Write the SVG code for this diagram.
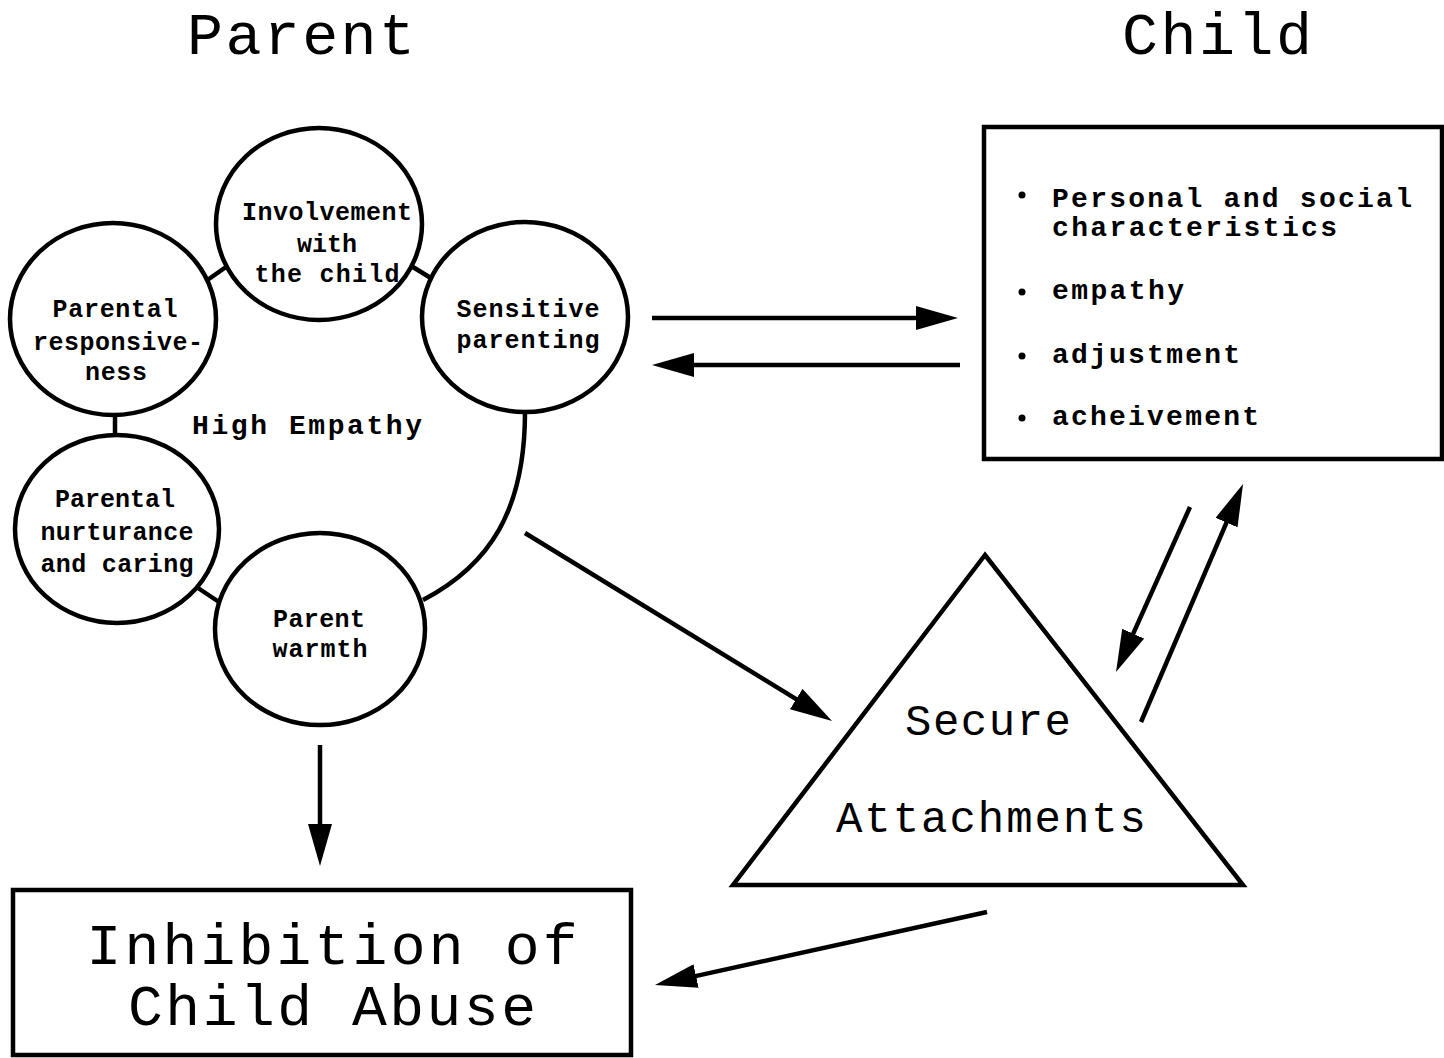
<svg xmlns="http://www.w3.org/2000/svg" width="1444" height="1058" viewBox="0 0 1444 1058">
<style>
.shape{fill:#fff;stroke:#000;stroke-width:4.5}
.ln{fill:none;stroke:#000;stroke-width:4.5}
.arr{fill:none;stroke:#000;stroke-width:4.5;marker-end:url(#ah)}
.c{font-family:"Liberation Mono","Courier New",monospace;font-weight:bold;font-size:25px;fill:#000;text-anchor:middle}
.b{font-family:"Liberation Mono","Courier New",monospace;font-weight:bold;font-size:28px;fill:#000}
.t{font-family:"Liberation Mono","Courier New",monospace;font-size:60px;fill:#000;text-anchor:middle}
.s{font-family:"Liberation Mono","Courier New",monospace;font-size:44px;fill:#000;text-anchor:middle}
.i{font-family:"Liberation Mono","Courier New",monospace;font-size:58px;fill:#000;text-anchor:middle}
</style>
<defs>
<marker id="ah" viewBox="0 0 42 24" refX="32" refY="12" markerWidth="42" markerHeight="24" markerUnits="userSpaceOnUse" orient="auto">
<path d="M0,0 L42,12 L0,24 z" fill="#000"/>
</marker>
</defs>
<rect width="1444" height="1058" fill="#fff"/>

<g id="titles">
<text class="t" x="301" y="54" textLength="228" lengthAdjust="spacing">Parent</text>
<text class="t" x="1217" y="54" textLength="190" lengthAdjust="spacing">Child</text>
</g>

<g id="connectors">
<line class="ln" x1="206" y1="281" x2="226" y2="267"/>
<line class="ln" x1="408" y1="264" x2="434" y2="280"/>
<line class="ln" x1="115" y1="414" x2="115" y2="437"/>
<line class="ln" x1="198" y1="588" x2="219" y2="602"/>
<path class="ln" d="M525,412 C525,510 490,565 423,600"/>
<line class="arr" x1="652" y1="318" x2="948" y2="318"/>
<line class="arr" x1="960" y1="365" x2="662" y2="365"/>
<line class="arr" x1="525" y1="533" x2="823.5" y2="715.8"/>
<line class="arr" x1="1190" y1="507" x2="1120.1" y2="662.9"/>
<line class="arr" x1="1141" y1="722" x2="1239.1" y2="493.2"/>
<line class="arr" x1="320" y1="745" x2="320" y2="856"/>
<line class="arr" x1="987" y1="912" x2="664.8" y2="982.9"/>
</g>

<g id="involvement">
<ellipse class="shape" cx="319" cy="224" rx="103" ry="96"/>
<text class="c" x="327" y="220" textLength="170" lengthAdjust="spacing">Involvement</text>
<text class="c" x="327" y="252" textLength="60" lengthAdjust="spacing">with</text>
<text class="c" x="327" y="282" textLength="145" lengthAdjust="spacing">the child</text>
</g>

<g id="responsiveness">
<ellipse class="shape" cx="113" cy="319" rx="103" ry="96"/>
<text class="c" x="115" y="317" textLength="125" lengthAdjust="spacing">Parental</text>
<text class="c" x="118" y="350" textLength="170" lengthAdjust="spacing">responsive-</text>
<text class="c" x="116" y="380" textLength="62" lengthAdjust="spacing">ness</text>
</g>

<g id="sensitive">
<ellipse class="shape" cx="525" cy="317" rx="103" ry="95"/>
<text class="c" x="528" y="317" textLength="143" lengthAdjust="spacing">Sensitive</text>
<text class="c" x="528" y="348" textLength="143" lengthAdjust="spacing">parenting</text>
</g>

<g id="nurturance">
<ellipse class="shape" cx="117" cy="529" rx="102" ry="94"/>
<text class="c" x="115" y="507" textLength="120" lengthAdjust="spacing">Parental</text>
<text class="c" x="117" y="540" textLength="153" lengthAdjust="spacing">nurturance</text>
<text class="c" x="117" y="572" textLength="153" lengthAdjust="spacing">and caring</text>
</g>

<g id="warmth">
<ellipse class="shape" cx="320" cy="629" rx="105" ry="96"/>
<text class="c" x="319" y="627" textLength="92" lengthAdjust="spacing">Parent</text>
<text class="c" x="320" y="657" textLength="95" lengthAdjust="spacing">warmth</text>
</g>

<g id="high-empathy">
<text class="b" x="307" y="434" text-anchor="middle" font-size="29" textLength="230" lengthAdjust="spacing">High Empathy</text>
</g>

<g id="child-box">
<rect class="shape" x="984" y="127" width="458" height="332"/>
<circle cx="1022" cy="195" r="3.5" fill="#000"/>
<circle cx="1022" cy="292" r="3.5" fill="#000"/>
<circle cx="1022" cy="356" r="3.5" fill="#000"/>
<circle cx="1022" cy="418" r="3.5" fill="#000"/>
<text class="b" x="1052" y="207" textLength="360" lengthAdjust="spacing">Personal and social</text>
<text class="b" x="1052" y="236" textLength="285" lengthAdjust="spacing">characteristics</text>
<text class="b" x="1052" y="299" textLength="132" lengthAdjust="spacing">empathy</text>
<text class="b" x="1052" y="363" textLength="188" lengthAdjust="spacing">adjustment</text>
<text class="b" x="1052" y="425" textLength="207" lengthAdjust="spacing">acheivement</text>
</g>

<g id="secure-attachments">
<polygon class="shape" points="985,555 733,885 1243,885"/>
<text class="s" x="988" y="735" textLength="166" lengthAdjust="spacing">Secure</text>
<text class="s" x="991" y="832" textLength="310" lengthAdjust="spacing">Attachments</text>
</g>

<g id="inhibition">
<rect class="shape" x="13" y="890" width="618" height="165"/>
<text class="i" x="332" y="964" textLength="491" lengthAdjust="spacing">Inhibition of</text>
<text class="i" x="332" y="1025" textLength="408" lengthAdjust="spacing">Child Abuse</text>
</g>
</svg>
